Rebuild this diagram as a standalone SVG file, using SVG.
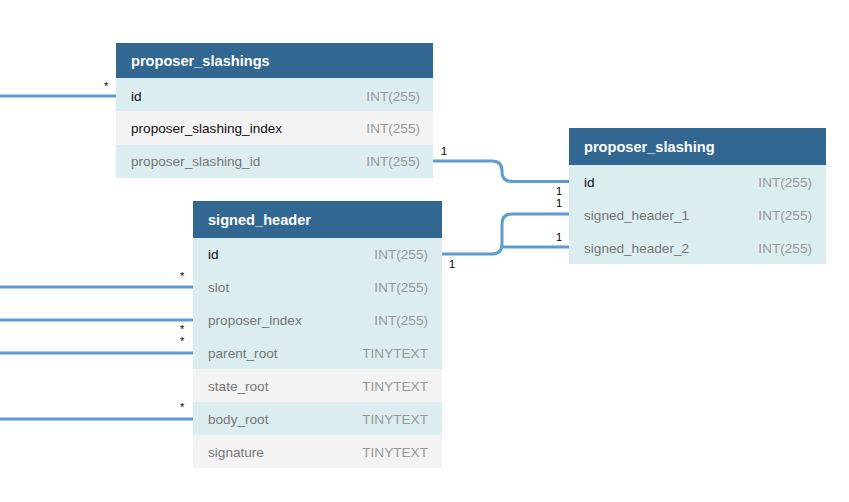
<svg xmlns="http://www.w3.org/2000/svg" width="849" height="502" viewBox="0 0 849 502">
<style>
.hd{fill:#326791}
.rb{fill:#dcedf0}
.rg{fill:#f3f3f3}
.ht{font-family:"Liberation Sans",Arial,sans-serif;font-size:14.6px;font-weight:bold;fill:#ffffff}
.fn{font-family:"Liberation Sans",Arial,sans-serif;font-size:13.6px;fill:#777777}
.fk{font-family:"Liberation Sans",Arial,sans-serif;font-size:13.6px;fill:#111111}
.ty{font-family:"Liberation Sans",Arial,sans-serif;font-size:13.6px;fill:#999999;text-anchor:end}
.cn{fill:none;stroke:#5f9bd0;stroke-width:3}
.lb{font-family:"Liberation Sans",Arial,sans-serif;font-size:11px;fill:#000000}
</style>
<rect width="849" height="502" fill="#ffffff"/>
<g id="connectors">
<path class="cn" d="M0 96H116"/>
<path class="cn" d="M433 161H492Q502 161 502 171V172Q502 181.5 512 181.5H569"/>
<path class="cn" d="M442 254H492Q502 254 502 244V224Q502 214 512 214H569"/>
<path class="cn" d="M500 247H569"/>
<path class="cn" d="M0 287H193"/>
<path class="cn" d="M0 320H193"/>
<path class="cn" d="M0 353H193"/>
<path class="cn" d="M0 419H193"/>
<text class="lb" x="104" y="90">*</text>
<text class="lb" x="441" y="155">1</text>
<text class="lb" x="556" y="195">1</text>
<text class="lb" x="556" y="207">1</text>
<text class="lb" x="556" y="241">1</text>
<text class="lb" x="449" y="268">1</text>
<text class="lb" x="180" y="280">*</text>
<text class="lb" x="180" y="333">*</text>
<text class="lb" x="180" y="345">*</text>
<text class="lb" x="180" y="411">*</text>
</g>
<g id="proposer_slashings">
<rect class="hd" x="116" y="43" width="317" height="35"/>
<text class="ht" x="131" y="66">proposer_slashings</text>
<rect class="rb" x="116" y="78" width="317" height="33"/>
<rect class="rg" x="116" y="111" width="317" height="34"/>
<rect class="rb" x="116" y="145" width="317" height="33"/>
<text class="fk" x="131" y="101">id</text>
<text class="ty" x="420" y="101">INT(255)</text>
<text class="fk" x="131" y="133">proposer_slashing_index</text>
<text class="ty" x="420" y="133">INT(255)</text>
<text class="fn" x="131" y="166">proposer_slashing_id</text>
<text class="ty" x="420" y="166">INT(255)</text>
</g>
<g id="proposer_slashing">
<rect class="hd" x="569" y="128" width="257" height="37"/>
<text class="ht" x="584" y="152">proposer_slashing</text>
<rect class="rb" x="569" y="165" width="257" height="99"/>
<text class="fk" x="584" y="187">id</text>
<text class="ty" x="812" y="187">INT(255)</text>
<text class="fn" x="584" y="220">signed_header_1</text>
<text class="ty" x="812" y="220">INT(255)</text>
<text class="fn" x="584" y="253">signed_header_2</text>
<text class="ty" x="812" y="253">INT(255)</text>
</g>
<g id="signed_header">
<rect class="hd" x="193" y="201" width="249" height="37"/>
<text class="ht" x="208" y="225">signed_header</text>
<rect class="rb" x="193" y="238" width="249" height="131"/>
<rect class="rg" x="193" y="369" width="249" height="33"/>
<rect class="rb" x="193" y="402" width="249" height="33"/>
<rect class="rg" x="193" y="435" width="249" height="33"/>
<text class="fk" x="208" y="259">id</text>
<text class="ty" x="428" y="259">INT(255)</text>
<text class="fn" x="208" y="292">slot</text>
<text class="ty" x="428" y="292">INT(255)</text>
<text class="fn" x="208" y="325">proposer_index</text>
<text class="ty" x="428" y="325">INT(255)</text>
<text class="fn" x="208" y="358">parent_root</text>
<text class="ty" x="428" y="358">TINYTEXT</text>
<text class="fn" x="208" y="391">state_root</text>
<text class="ty" x="428" y="391">TINYTEXT</text>
<text class="fn" x="208" y="424">body_root</text>
<text class="ty" x="428" y="424">TINYTEXT</text>
<text class="fn" x="208" y="457">signature</text>
<text class="ty" x="428" y="457">TINYTEXT</text>
</g>
</svg>
